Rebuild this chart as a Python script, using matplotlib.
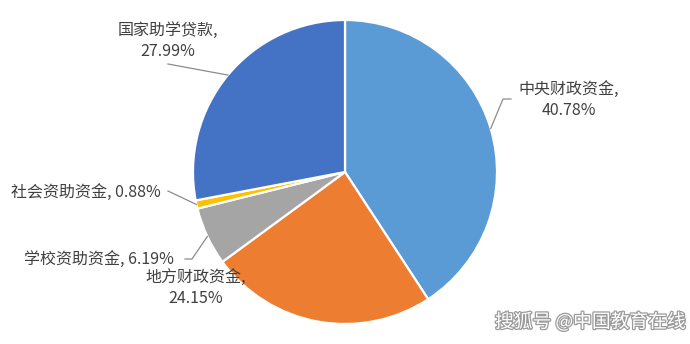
import numpy as np
import matplotlib
matplotlib.use("Agg")
import matplotlib.pyplot as plt
import matplotlib.patheffects as pe

plt.rcParams['font.family'] = ['Noto Sans CJK SC', 'DejaVu Sans']

categories = ['中央财政资金', '地方财政资金', '学校资助资金', '社会资助资金', '国家助学贷款']
values = [40.78, 24.15, 6.19, 0.88, 27.99]
colors = ['#5B9BD5', '#ED7D31', '#A5A5A5', '#FFC000', '#4472C4']

W, H = 690, 344
fig = plt.figure(figsize=(W / 100, H / 100), dpi=100)
ax = fig.add_axes([0, 0, 1, 1])
cx, cy, R = 345, 172, 152

wedges, _ = ax.pie(values, colors=colors, startangle=90, counterclock=False,
                   radius=1.0, wedgeprops=dict(edgecolor='white', linewidth=1.6))
ax.set_xlim(-cx / R, (W - cx) / R)
ax.set_ylim(-(H - cy) / R, cy / R)
ax.set_aspect('equal')
ax.axis('off')

def P(px, py):
    return ((px - cx) / R, (cy - py) / R)

tc = '#404040'
lc = '#8c8c8c'
fs = 11.5

layout = {
    0: dict(pos=P(569, 100), ha='center', text='{c},\n{v:.2f}%', path=[P(503, 99), P(511, 99)]),
    1: dict(pos=P(196, 288), ha='center', text='{c},\n{v:.2f}%', path=None),
    2: dict(pos=P(174, 259), ha='right', text='{c}, {v:.2f}%', path=[P(192, 259), P(185, 259)]),
    3: dict(pos=P(161, 192), ha='right', text='{c}, {v:.2f}%', path=[P(168, 191)]),
    4: dict(pos=P(168, 41), ha='center', text='{c},\n{v:.2f}%', path=[P(168, 64)]),
}

for i, w in enumerate(wedges):
    ang = np.deg2rad((w.theta1 + w.theta2) / 2)
    ex, ey = np.cos(ang), np.sin(ang)
    L = layout[i]
    if L['path']:
        xs = [ex] + [p[0] for p in L['path']]
        ys = [ey] + [p[1] for p in L['path']]
        ax.plot(xs, ys, color=lc, lw=0.9, zorder=3)
    ax.text(L['pos'][0], L['pos'][1], L['text'].format(c=categories[i], v=values[i]),
            ha=L['ha'], va='center', fontsize=fs, color=tc, linespacing=1.25, zorder=4)

# watermark
wx, wy = P(495, 322)
ax.text(wx, wy, '搜狐号 @中国教育在线', ha='left', va='center', fontsize=13.5,
        color='white', zorder=5,
        path_effects=[pe.withStroke(linewidth=1.8, foreground='#9a9a9a')])

fig.savefig('out.png', dpi=100)
